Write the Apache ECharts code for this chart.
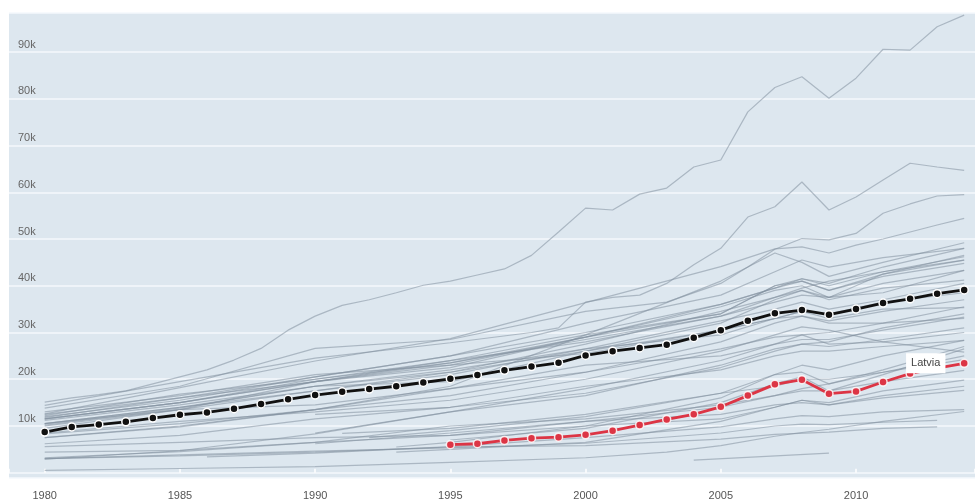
<!DOCTYPE html>
<html>
<head>
<meta charset="utf-8">
<script src="https://cdn.jsdelivr.net/npm/echarts@6/dist/echarts.min.js"></script>
<style>
  html, body { margin: 0; padding: 0; background: #fff; }
  #chart { width: 978px; height: 502px; }
</style>
</head>
<body>
<div id="chart"></div>
<script>
// GDP per head, thousands of dollars
const years = [];
for (let y = 1980; y <= 2014; y++) years.push(y);

// black line with dots (average)
const average = [8.7, 9.8, 10.3, 10.9, 11.7, 12.4, 12.9, 13.7, 14.7, 15.7,
    16.6, 17.3, 17.9, 18.5, 19.3, 20.1, 20.9, 21.9, 22.7, 23.5,
    25.1, 26.0, 26.7, 27.4, 28.9, 30.5, 32.5, 34.1, 34.8, 33.8,
    35.0, 36.3, 37.2, 38.3, 39.1];

// highlighted country
const latviaYears = [1995, 1996, 1997, 1998, 1999, 2000, 2001, 2002, 2003, 2004,
    2005, 2006, 2007, 2008, 2009, 2010, 2011, 2012, 2013, 2014];
const latvia = [6.0, 6.2, 6.9, 7.4, 7.6, 8.1, 9.0, 10.2, 11.4, 12.5,
    14.1, 16.5, 18.9, 19.9, 16.9, 17.4, 19.4, 21.2, 22.4, 23.4];

// grey background lines, [year, value]
const luxembourg = [[1980, 15.1], [1981, 16.0], [1982, 16.7], [1983, 17.5], [1984, 19.0], [1985, 20.5], [1986, 22.0], [1987, 24.1], [1988, 26.6], [1989, 30.5], [1990, 33.5], [1991, 35.8], [1992, 37.0], [1993, 38.5], [1994, 40.1], [1995, 41.0], [1996, 42.3], [1997, 43.6], [1998, 46.5], [1999, 51.5], [2000, 56.6], [2001, 56.2], [2002, 59.6], [2003, 60.9], [2004, 65.4], [2005, 66.9], [2006, 77.2], [2007, 82.4], [2008, 84.7], [2009, 80.1], [2010, 84.4], [2011, 90.6], [2012, 90.4], [2013, 95.4], [2014, 97.9]];
const norway = [[1980, 14.4], [1985, 19.5], [1990, 24.5], [1995, 27.8], [1998, 30.0], [1999, 31.0], [2000, 36.5], [2001, 37.5], [2002, 38.0], [2003, 40.5], [2004, 44.5], [2005, 48.0], [2006, 54.7], [2007, 56.9], [2008, 62.2], [2009, 56.2], [2010, 59.0], [2011, 62.6], [2012, 66.2], [2013, 65.4], [2014, 64.7]];
const switzerland = [[1980, 13.8], [1985, 18.5], [1990, 26.6], [1995, 28.5], [2000, 34.5], [2003, 36.5], [2005, 40.5], [2006, 44.0], [2007, 47.8], [2008, 50.1], [2009, 49.8], [2010, 51.2], [2011, 55.5], [2012, 57.5], [2013, 59.2], [2014, 59.5]];
const usa = [[1980, 12.6], [1985, 18.2], [1990, 23.9], [1995, 28.7], [2000, 36.4], [2005, 44.1], [2007, 47.9], [2008, 48.3], [2009, 47.0], [2010, 48.7], [2011, 50.0], [2012, 51.5], [2013, 53.0], [2014, 54.4]];
const ireland = [[1980, 7.5], [1985, 9.8], [1990, 13.5], [1995, 18.5], [2000, 29.5], [2005, 41.0], [2007, 47.0], [2008, 45.0], [2009, 42.0], [2011, 45.0], [2014, 49.2]];
const netherlands = [[1980, 12.5], [1985, 16.0], [1990, 20.5], [1995, 25.0], [2000, 32.0], [2005, 38.0], [2007, 43.0], [2008, 45.5], [2009, 44.0], [2011, 46.0], [2014, 48.0]];
const austria = [[1980, 12.0], [1985, 15.5], [1990, 20.5], [1995, 25.0], [2000, 30.0], [2005, 36.0], [2007, 39.5], [2008, 41.5], [2009, 40.5], [2011, 44.0], [2014, 48.0]];
const australia = [[1980, 10.5], [1985, 14.0], [1990, 17.5], [1995, 21.5], [2000, 27.5], [2005, 34.5], [2007, 37.5], [2008, 39.5], [2009, 41.0], [2011, 43.0], [2014, 46.2]];
const germany = [[1980, 11.5], [1985, 15.0], [1990, 20.0], [1995, 24.0], [2000, 28.0], [2005, 33.5], [2007, 37.5], [2008, 39.0], [2009, 37.5], [2011, 42.5], [2014, 46.5]];
const sweden = [[1980, 11.5], [1985, 15.0], [1990, 19.5], [1995, 22.5], [2000, 29.0], [2005, 34.0], [2007, 40.0], [2008, 41.0], [2009, 39.0], [2011, 42.5], [2014, 45.5]];
const denmark = [[1980, 11.8], [1985, 16.0], [1990, 19.5], [1995, 24.0], [2000, 29.5], [2005, 34.0], [2007, 40.0], [2008, 41.5], [2009, 40.0], [2011, 43.0], [2014, 45.5]];
const canada = [[1980, 12.2], [1985, 16.8], [1990, 20.0], [1995, 23.5], [2000, 29.0], [2005, 36.0], [2007, 39.5], [2008, 41.0], [2009, 39.0], [2011, 42.0], [2014, 44.8]];
const iceland = [[1980, 13.0], [1985, 16.5], [1990, 21.0], [1995, 23.0], [2000, 29.0], [2005, 35.5], [2007, 39.0], [2008, 40.0], [2009, 37.5], [2011, 38.5], [2014, 43.3]];
const belgium = [[1980, 11.5], [1985, 15.0], [1990, 19.5], [1995, 23.5], [2000, 28.5], [2005, 33.5], [2007, 36.5], [2008, 38.0], [2009, 37.5], [2011, 40.5], [2014, 43.3]];
const finland = [[1980, 10.2], [1985, 13.8], [1990, 18.5], [1995, 19.5], [2000, 26.0], [2005, 32.0], [2007, 37.0], [2008, 39.0], [2009, 37.0], [2011, 39.5], [2014, 41.2]];
const uk = [[1980, 10.0], [1985, 13.5], [1990, 17.5], [1995, 21.0], [2000, 26.5], [2005, 32.5], [2007, 35.0], [2008, 36.5], [2009, 35.0], [2011, 37.0], [2014, 40.5]];
const france = [[1980, 11.2], [1985, 14.5], [1990, 18.5], [1995, 21.5], [2000, 26.0], [2005, 30.5], [2007, 33.0], [2008, 34.5], [2009, 34.0], [2011, 36.5], [2014, 38.5]];
const japan = [[1980, 9.5], [1985, 13.5], [1990, 19.5], [1995, 23.0], [2000, 25.5], [2005, 30.5], [2007, 33.0], [2008, 33.5], [2009, 32.5], [2011, 34.5], [2014, 37.0]];
const newZealand = [[1980, 10.5], [1985, 13.5], [1990, 14.5], [1995, 18.0], [2000, 21.5], [2005, 26.5], [2007, 29.0], [2008, 29.5], [2009, 30.0], [2011, 32.0], [2014, 35.5]];
const italy = [[1980, 10.5], [1985, 14.0], [1990, 18.5], [1995, 22.0], [2000, 26.5], [2005, 29.5], [2007, 33.0], [2008, 34.5], [2009, 33.0], [2011, 35.0], [2014, 35.3]];
const korea = [[1980, 2.9], [1985, 4.7], [1990, 8.3], [1995, 13.0], [2000, 16.5], [2005, 23.0], [2007, 26.5], [2008, 27.5], [2009, 28.0], [2011, 31.0], [2014, 34.0]];
const israel = [[1980, 8.3], [1985, 10.5], [1990, 13.5], [1995, 18.0], [2000, 23.0], [2005, 25.0], [2007, 27.5], [2008, 28.5], [2009, 28.5], [2011, 30.5], [2014, 33.3]];
const spain = [[1980, 7.5], [1985, 10.0], [1990, 13.5], [1995, 16.5], [2000, 21.5], [2005, 28.0], [2007, 32.0], [2008, 33.5], [2009, 32.0], [2011, 32.0], [2014, 33.0]];
const greece = [[1980, 8.5], [1985, 11.0], [1990, 13.0], [1995, 15.5], [2000, 20.0], [2005, 26.0], [2007, 29.5], [2008, 31.2], [2009, 30.5], [2011, 28.0], [2014, 25.8]];
const portugal = [[1980, 6.2], [1985, 8.0], [1990, 11.5], [1995, 14.0], [2000, 18.5], [2005, 22.0], [2007, 25.0], [2008, 26.0], [2009, 26.0], [2011, 27.0], [2014, 28.3]];
const czechia = [[1990, 12.5], [1995, 14.0], [2000, 17.0], [2005, 22.5], [2007, 26.0], [2008, 27.5], [2009, 27.0], [2011, 28.5], [2014, 31.0]];
const slovenia = [[1990, 8.5], [1995, 13.0], [2000, 18.0], [2005, 24.0], [2007, 27.5], [2008, 29.5], [2009, 27.5], [2011, 28.0], [2014, 30.0]];
const slovakia = [[1992, 7.5], [1995, 9.0], [2000, 12.0], [2005, 17.0], [2007, 21.0], [2008, 23.0], [2009, 22.0], [2011, 25.0], [2014, 28.3]];
const estonia = [[1993, 5.5], [1995, 6.5], [2000, 10.0], [2005, 16.0], [2007, 21.0], [2008, 21.5], [2009, 19.0], [2011, 22.0], [2014, 27.0]];
const poland = [[1990, 6.2], [1995, 8.5], [2000, 11.0], [2005, 14.0], [2007, 16.5], [2008, 18.0], [2009, 19.0], [2011, 21.5], [2014, 25.0]];
const hungary = [[1991, 8.4], [1995, 9.5], [2000, 12.5], [2005, 17.0], [2007, 18.5], [2008, 20.0], [2009, 20.0], [2011, 21.5], [2014, 24.2]];
const lithuania = [[1995, 7.0], [2000, 9.5], [2005, 15.0], [2007, 19.0], [2008, 20.5], [2009, 17.5], [2011, 21.0], [2014, 26.5]];
const chile = [[1980, 4.4], [1985, 4.8], [1990, 6.5], [1995, 10.0], [2000, 11.5], [2005, 14.5], [2007, 16.5], [2008, 17.5], [2009, 17.5], [2011, 19.5], [2014, 21.9]];
const turkey = [[1980, 3.2], [1985, 4.5], [1990, 6.5], [1995, 8.0], [2000, 10.0], [2005, 11.5], [2007, 14.0], [2008, 15.5], [2009, 15.0], [2011, 17.5], [2014, 19.8]];
const mexico = [[1980, 5.6], [1985, 6.5], [1990, 7.5], [1995, 8.0], [2000, 11.0], [2005, 12.5], [2007, 14.5], [2008, 15.0], [2009, 14.5], [2011, 16.0], [2014, 17.6]];
const russia = [[1993, 4.4], [1995, 5.0], [2000, 6.5], [2005, 11.0], [2007, 14.0], [2008, 15.5], [2009, 14.5], [2011, 16.5], [2014, 18.5]];
const brazil = [[1986, 3.4], [1990, 4.2], [1995, 5.6], [2000, 7.5], [2005, 9.8], [2007, 11.5], [2008, 12.2], [2009, 12.0], [2011, 13.0], [2014, 13.5]];
const southAfrica = [[1980, 3.0], [1985, 3.8], [1990, 4.6], [1995, 5.3], [2000, 6.3], [2005, 8.5], [2007, 10.0], [2008, 10.4], [2009, 10.3], [2011, 10.8], [2013, 11.2]];
const indonesia = [[1980, 3.0], [1985, 3.6], [1990, 4.4], [1995, 5.5], [2000, 5.8], [2005, 7.2], [2007, 8.2], [2009, 8.7], [2011, 9.5], [2013, 9.8]];
const china = [[1980, 0.5], [1985, 0.9], [1990, 1.3], [1995, 2.2], [2000, 3.2], [2003, 4.4], [2005, 5.8], [2007, 7.8], [2008, 8.6], [2009, 9.3], [2011, 11.0], [2014, 13.1]];
const india = [[2004, 2.7], [2009, 4.2]];

const others = [luxembourg, norway, switzerland, usa, ireland, netherlands, austria,
    australia, germany, sweden, denmark, canada, iceland, belgium, finland, uk, france,
    japan, newZealand, italy, korea, israel, spain, greece, portugal, czechia, slovenia,
    slovakia, estonia, poland, hungary, lithuania, chile, turkey, mexico, russia, brazil,
    southAfrica, indonesia, china, india];

let myChart = echarts.init(document.getElementById('chart'));

let series = others.map(function (d) {
    return {
        type: 'line',
        data: d,
        symbol: 'none',
        silent: true,
        lineStyle: { color: 'rgba(130,143,158,0.55)', width: 1.2 }
    };
});

series.push({
    name: 'average',
    type: 'line',
    data: years.map((y, i) => [y, average[i]]),
    symbol: 'circle',
    symbolSize: 8,
    lineStyle: { color: '#111', width: 2.8 },
    itemStyle: { color: '#111', borderColor: '#fff', borderWidth: 1.5 }
});

series.push({
    name: 'Latvia',
    type: 'line',
    data: latviaYears.map((y, i) => {
        let p = { value: [y, latvia[i]] };
        if (i === latviaYears.length - 1) {
            p.label = {
                show: true,
                position: 'left',
                distance: 14,
                formatter: 'Latvia',
                color: '#444',
                fontSize: 11,
                fontFamily: 'Liberation Sans, Arial, sans-serif',
                backgroundColor: '#fff',
                padding: [5, 5, 4, 5]
            };
        }
        return p;
    }),
    symbol: 'circle',
    symbolSize: 8,
    z: 5,
    lineStyle: { color: '#dc3545', width: 2.8 },
    itemStyle: { color: '#dc3545', borderColor: 'rgba(255,255,255,0.85)', borderWidth: 1.5 }
});

let option = {
    animation: false,
    backgroundColor: '#fff',
    grid: {
        left: 9,
        right: 0,
        top: 13,
        bottom: 24,
        show: true,
        backgroundColor: '#dde7ef',
        borderWidth: 0
    },
    xAxis: {
        type: 'value',
        min: 1978.68,
        max: 2014.4,
        splitNumber: 7,
        axisLine: { show: false },
        splitLine: { show: false },
        axisTick: { show: true, inside: true, length: 4, lineStyle: { color: '#fff', width: 1.5 } },
        axisLabel: {
            margin: 12,
            color: '#555',
            fontSize: 11,
            fontFamily: 'Liberation Sans, Arial, sans-serif',
            formatter: function (v) { return v % 5 === 0 ? String(v) : ''; }
        }
    },
    yAxis: {
        type: 'value',
        min: -1.13,
        max: 98.35,
        splitNumber: 10,
        axisLine: { show: false },
        axisTick: { show: false },
        splitLine: { lineStyle: { color: '#f5f9fc', width: 1.5 } },
        axisLabel: {
            inside: true,
            margin: 9,
            verticalAlign: 'bottom',
            padding: [0, 0, 2, 0],
            color: '#666',
            fontSize: 11,
            fontFamily: 'Liberation Sans, Arial, sans-serif',
            formatter: function (v) { return (v > 0 && v % 10 === 0) ? v + 'k' : ''; }
        }
    },
    series: series
};

myChart.setOption(option);
</script>
</body>
</html>
